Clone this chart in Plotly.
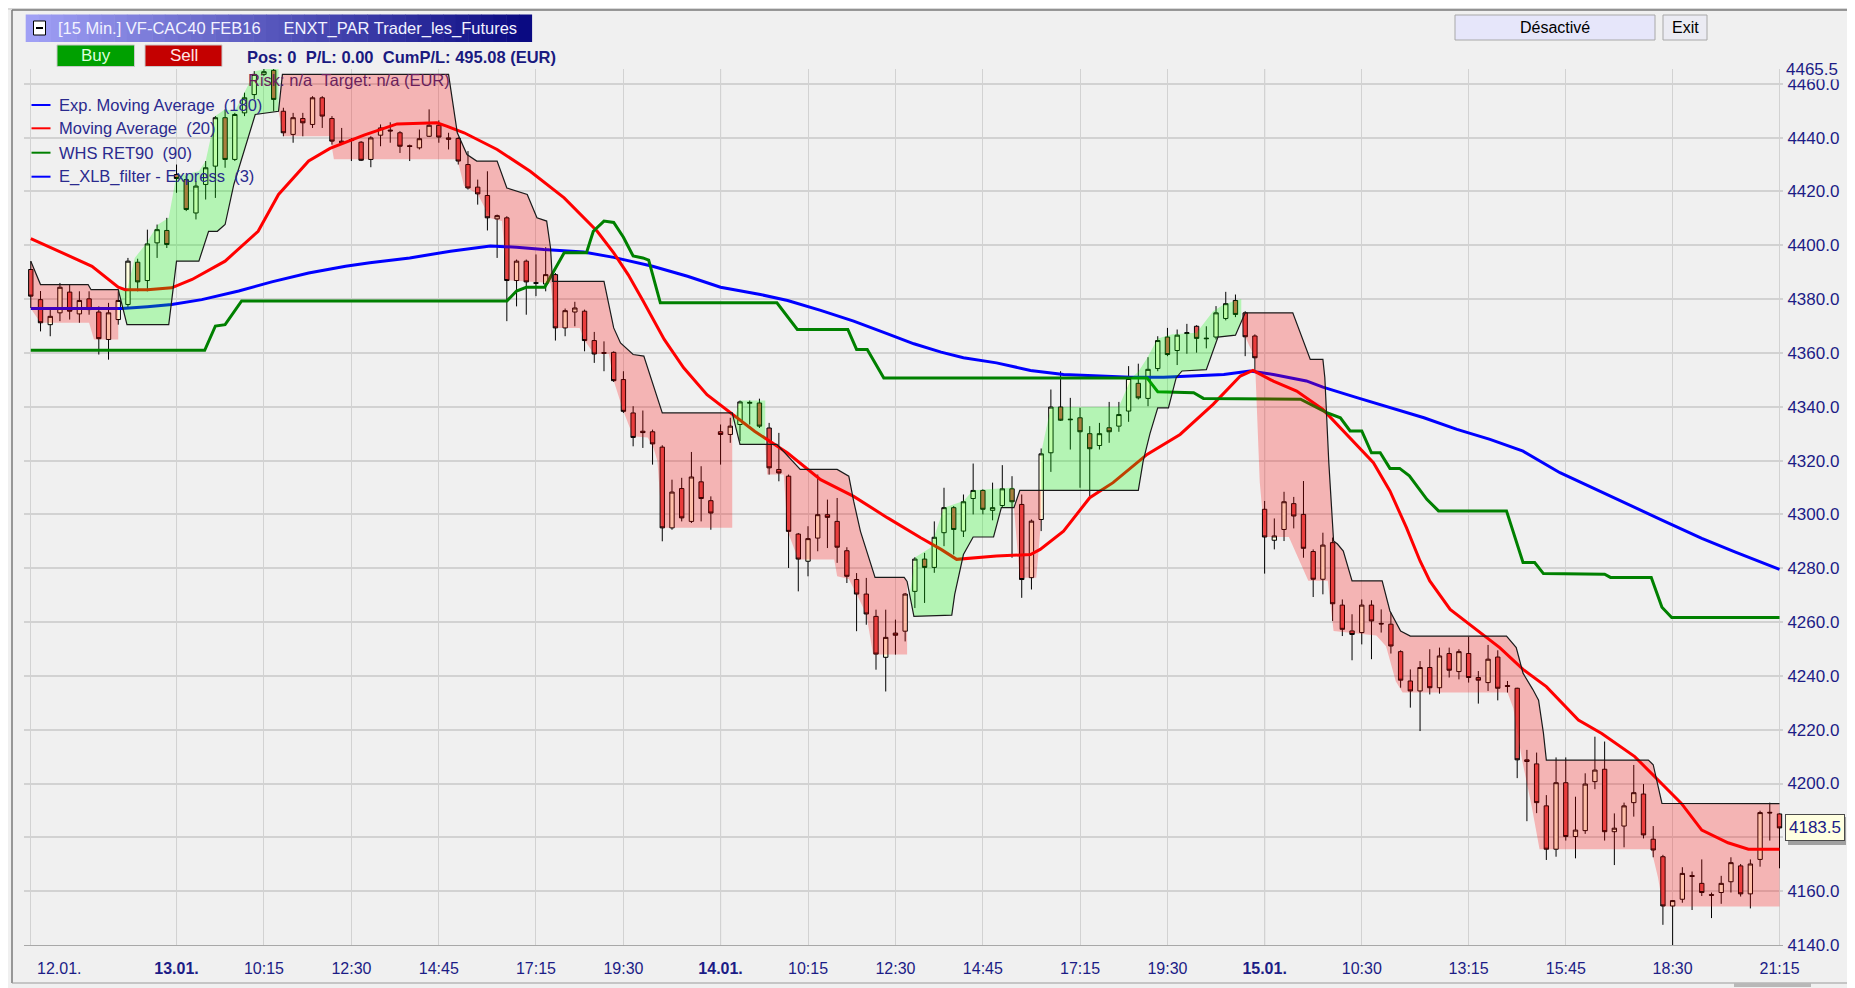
import plotly.graph_objects as go

# --- Velas 15 min, indice de barra 0..180 (12.01 18:15 -> 15.01 21:15) ---
open_ = [
    # 12.01
    4391.0, 4379.8, 4370.5, 4374.9, 4382.6, 4374.5, 4380.1, 4375.2, 4365.0, 4372.4, 4378.0, 4393.7, 4386.9, 4400.9, 4405.5,
    # 13.01
    4426.3, 4424.4, 4412.0, 4422.6, 4429.4, 4447.4, 4431.9, 4449.2, 4456.0, 4463.5, 4465.0, 4449.8, 4441.2, 4447.1,
    4444.9, 4454.8, 4447.1, 4438.7, 4438.9, 4438.3, 4431.9, 4440.9, 4442.8, 4441.8, 4437.0, 4436.2, 4440.5, 4444.6,
    4439.9, 4439.7, 4430.0, 4421.6, 4418.5, 4409.8, 4410.2, 4386.9, 4394.1, 4386.1, 4385.6, 4389.1, 4369.3, 4375.2,
    4375.5, 4364.6, 4360.1, 4360.2, 4350.1, 4337.7, 4330.9, 4330.7, 4325.0, 4295.0, 4309.6, 4297.4, 4312.1, 4305.1,
    # 14.01
    4330.7, 4329.7, 4333.4, 4341.3, 4341.4, 4332.1, 4316.7, 4314.2, 4292.7, 4282.6, 4291.2, 4299.9, 4297.4, 4286.5,
    4275.8, 4270.4, 4262.1, 4246.9, 4255.9, 4256.6, 4271.4, 4283.4, 4280.3, 4293.2, 4302.5, 4293.8, 4305.9, 4308.9,
    4301.5, 4303.3, 4309.5, 4303.7, 4276.5, 4298.1, 4322.9, 4339.9, 4335.4, 4335.9, 4330.0, 4325.6, 4332.2, 4332.8,
    4338.4, 4348.7, 4343.1, 4354.2, 4365.9, 4360.9, 4367.2, 4369.9, 4365.5, 4365.9, 4372.8, 4379.5, 4374.9, 4366.3,
    # 15.01
    4301.9, 4290.4, 4294.4, 4304.0, 4300.0, 4286.2, 4275.9, 4289.5, 4266.3, 4256.7, 4256.1, 4266.3, 4259.5, 4259.2,
    4249.0, 4238.1, 4234.4, 4243.1, 4235.6, 4248.3, 4241.6, 4248.3, 4239.4, 4237.5, 4247.0, 4236.4, 4235.4, 4208.8,
    4207.3, 4191.7, 4175.6, 4200.3, 4180.3, 4182.5, 4200.7, 4205.3, 4182.1, 4184.2, 4192.9, 4196.1, 4179.3, 4172.8,
    4154.5, 4157.0, 4165.8, 4162.9, 4158.7, 4159.5, 4163.5, 4169.4, 4159.0, 4171.8, 4189.3, 4188.7,
]
high = [
    4394.1, 4383.0, 4376.7, 4386.0, 4385.4, 4382.9, 4382.9, 4377.3, 4378.6, 4382.9, 4395.3, 4395.0, 4405.8, 4407.7, 4410.2,
    4430.0, 4425.7, 4423.8, 4431.3, 4448.0, 4450.5, 4449.2, 4456.7, 4464.7, 4466.0, 4466.0, 4451.1, 4449.2, 4449.2,
    4455.4, 4455.4, 4448.0, 4443.6, 4439.9, 4438.7, 4440.5, 4444.9, 4445.7, 4442.4, 4437.4, 4443.0, 4450.5, 4446.4,
    4441.8, 4440.2, 4435.0, 4424.4, 4427.5, 4411.4, 4410.8, 4394.7, 4394.7, 4396.6, 4399.3, 4389.7, 4376.5, 4379.0,
    4376.1, 4367.8, 4364.3, 4360.6, 4353.2, 4340.2, 4338.6, 4331.5, 4325.7, 4312.9, 4313.6, 4323.2, 4317.9, 4306.7,
    4333.4, 4335.9, 4342.3, 4342.3, 4343.0, 4334.0, 4330.3, 4314.8, 4293.1, 4295.6, 4314.8, 4305.5, 4306.1, 4287.8,
    4278.2, 4276.4, 4264.6, 4264.6, 4260.9, 4270.8, 4284.1, 4285.7, 4297.4, 4309.9, 4303.1, 4307.4, 4318.9, 4309.3,
    4311.8, 4318.3, 4314.2, 4307.4, 4298.1, 4324.5, 4346.4, 4353.2, 4343.3, 4339.6, 4332.8, 4334.0, 4341.8, 4341.8,
    4355.1, 4356.0, 4358.4, 4366.2, 4369.3, 4368.7, 4370.8, 4370.3, 4369.9, 4377.4, 4382.7, 4381.7, 4375.5, 4366.9,
    4305.0, 4298.5, 4308.4, 4306.5, 4312.4, 4287.0, 4293.2, 4291.4, 4268.4, 4262.9, 4268.4, 4268.1, 4264.7, 4263.5,
    4249.5, 4242.4, 4245.5, 4249.9, 4250.5, 4250.5, 4249.9, 4254.5, 4241.8, 4251.5, 4249.5, 4238.1, 4235.6, 4212.5,
    4211.5, 4195.7, 4209.7, 4209.7, 4195.1, 4203.8, 4217.4, 4215.6, 4188.9, 4192.9, 4206.9, 4199.8, 4184.2, 4173.5,
    4156.7, 4168.9, 4167.3, 4171.8, 4159.5, 4165.7, 4172.6, 4170.1, 4171.8, 4189.9, 4192.9, 4188.9,
]
low = [
    4376.7, 4368.0, 4366.2, 4371.8, 4372.4, 4371.2, 4374.2, 4359.4, 4357.5, 4370.5, 4376.7, 4382.9, 4382.9, 4395.3, 4399.0,
    4419.5, 4412.7, 4409.6, 4417.0, 4417.6, 4428.8, 4431.3, 4448.0, 4454.2, 4462.9, 4449.8, 4440.5, 4438.1, 4440.5,
    4443.6, 4443.6, 4437.4, 4437.4, 4431.3, 4431.3, 4429.0, 4436.8, 4438.1, 4434.3, 4431.3, 4435.6, 4440.2, 4438.1,
    4435.6, 4430.0, 4420.7, 4415.1, 4405.5, 4395.3, 4371.8, 4377.3, 4374.2, 4381.1, 4382.9, 4364.6, 4366.2, 4369.9,
    4360.6, 4356.3, 4353.2, 4349.2, 4337.7, 4325.3, 4324.7, 4318.5, 4290.0, 4294.3, 4297.4, 4296.8, 4297.4, 4294.3,
    4318.5, 4326.6, 4327.2, 4333.4, 4332.1, 4314.8, 4312.3, 4280.1, 4271.4, 4277.0, 4286.3, 4287.5, 4282.0, 4274.5,
    4256.6, 4259.0, 4242.3, 4234.2, 4247.9, 4252.8, 4265.2, 4267.1, 4278.3, 4288.2, 4285.1, 4291.6, 4300.0, 4300.0,
    4297.8, 4302.5, 4283.9, 4269.0, 4272.1, 4293.8, 4315.8, 4334.7, 4324.1, 4309.9, 4306.8, 4324.1, 4326.6, 4330.7,
    4334.4, 4342.7, 4340.2, 4353.2, 4358.8, 4355.5, 4359.7, 4360.1, 4361.7, 4365.0, 4372.1, 4373.3, 4358.8, 4353.3,
    4278.0, 4287.0, 4290.1, 4294.8, 4283.9, 4269.3, 4270.3, 4260.4, 4254.8, 4245.8, 4251.7, 4246.2, 4256.1, 4248.3,
    4235.6, 4228.2, 4219.5, 4233.1, 4233.4, 4239.4, 4238.7, 4237.5, 4229.7, 4234.4, 4230.9, 4233.8, 4202.0, 4186.0,
    4189.0, 4171.6, 4172.8, 4178.8, 4172.2, 4181.3, 4197.9, 4178.8, 4169.7, 4176.3, 4187.7, 4179.6, 4172.6, 4147.5,
    4139.7, 4155.7, 4153.0, 4158.2, 4150.0, 4155.3, 4159.5, 4158.0, 4153.6, 4169.1, 4178.8, 4168.5,
]
close = [
    4381.1, 4371.2, 4373.6, 4384.4, 4375.5, 4379.5, 4376.1, 4365.3, 4374.9, 4379.5, 4394.1, 4386.4, 4400.5, 4405.8, 4400.3,
    4424.8, 4413.3, 4422.0, 4428.8, 4447.4, 4431.9, 4448.6, 4454.8, 4463.5, 4464.5, 4454.2, 4441.8, 4447.4, 4445.5,
    4454.8, 4448.0, 4438.7, 4438.1, 4439.2, 4431.6, 4439.9, 4443.6, 4442.5, 4436.8, 4436.7, 4439.6, 4444.6, 4440.2,
    4439.4, 4431.3, 4421.3, 4419.1, 4410.2, 4411.0, 4386.9, 4394.1, 4386.4, 4385.9, 4389.1, 4369.3, 4375.7, 4376.7,
    4364.6, 4359.6, 4359.9, 4349.7, 4338.3, 4328.6, 4330.4, 4326.2, 4295.0, 4308.3, 4298.7, 4313.9, 4305.9, 4300.5,
    4329.7, 4332.8, 4341.8, 4341.6, 4332.8, 4317.3, 4315.4, 4293.7, 4283.4, 4291.0, 4299.9, 4298.9, 4287.8, 4277.0,
    4270.4, 4263.0, 4248.1, 4254.3, 4255.1, 4270.4, 4283.4, 4280.3, 4291.5, 4302.5, 4294.4, 4304.7, 4308.9, 4301.9,
    4302.5, 4309.5, 4304.7, 4275.8, 4297.5, 4322.5, 4339.9, 4335.0, 4335.2, 4330.7, 4324.4, 4330.0, 4330.7, 4337.1,
    4350.5, 4343.3, 4353.9, 4364.6, 4359.4, 4366.6, 4367.5, 4365.4, 4365.3, 4374.9, 4378.3, 4374.3, 4366.0, 4358.2,
    4291.6, 4292.0, 4304.7, 4299.4, 4287.4, 4275.9, 4288.6, 4266.8, 4257.3, 4255.4, 4266.3, 4260.4, 4259.3, 4251.1,
    4238.4, 4234.4, 4243.1, 4235.6, 4247.4, 4242.1, 4249.0, 4239.4, 4238.4, 4246.2, 4235.4, 4236.1, 4208.8, 4208.2,
    4192.9, 4175.6, 4200.3, 4180.3, 4182.7, 4199.8, 4205.0, 4182.1, 4183.4, 4191.7, 4196.6, 4180.9, 4175.3, 4154.5,
    4156.5, 4166.6, 4165.5, 4159.5, 4158.5, 4162.9, 4170.6, 4159.0, 4170.1, 4189.2, 4189.1, 4183.5,
]
bars = list(range(len(close)))

# --- Indicadores ---
ema_x = [0, 9.4, 12, 14.5, 17.6, 21.4, 24.8, 28.6, 32.4, 34.9, 39, 43.2, 47.3, 50, 52.8, 56.9, 60, 64, 67.6, 71,
         75.1, 77.9, 81.3, 84.7, 88.2, 90.9, 93.7, 96, 99.4, 102.9, 106.3, 109.7, 113.2, 116.6, 120, 122.8, 125.5,
         127.9, 131.3, 133, 136.5, 139.9, 143.4, 146.8, 150.2, 153.6, 157.4, 167.9, 172, 175.4, 180]
ema_y = [4376.5, 4376.5, 4377.2, 4378.0, 4379.8, 4383.0, 4386.4, 4389.7, 4392.2, 4393.5, 4395.3, 4397.8, 4399.7,
         4399.3, 4398.4, 4397.5, 4395.5, 4392.2, 4388.5, 4384.4, 4381.7, 4379.5, 4375.8, 4371.8, 4367.1, 4363.4,
         4360.3, 4358.2, 4356.3, 4353.5, 4352.0, 4351.4, 4351.0, 4351.0, 4351.4, 4352.0, 4353.3, 4352.0, 4349.6,
         4347.3, 4343.4, 4339.6, 4335.9, 4331.6, 4327.9, 4323.5, 4315.5, 4297.9, 4291.1, 4286.1, 4279.6]

ma_x = [0, 2.8, 6.3, 9, 9.7, 12, 14.5, 16.6, 20, 23.4, 25.5, 28.6, 30.8, 34.3, 37.7, 41.8, 42.8, 44.6, 48, 51.4,
        54.9, 58.3, 60, 61.5, 63, 65.2, 67.2, 69.6, 72, 74.5, 77.9, 81.3, 84.7, 88.2, 91.6, 93.7, 95.3, 99.4, 102.9,
        103.9, 106.3, 109, 111.4, 114.9, 118.3, 121.7, 124.5, 125.8, 127.9, 130.3, 133, 134.8, 138.2, 139.9, 141.6,
        143, 144, 146.1, 148.5, 151.2, 153.6, 156, 159.3, 161.7, 165.1, 167.5, 169.9, 172, 174.7, 176.8, 180]
ma_y = [4402.5, 4398.0, 4392.2, 4384.4, 4383.5, 4383.5, 4384.2, 4387.3, 4394.1, 4405.2, 4418.9, 4431.3, 4436.0,
        4440.9, 4445.1, 4445.5, 4444.3, 4441.8, 4435.6, 4427.5, 4417.6, 4405.2, 4397.2, 4389.0, 4379.5, 4365.0,
        4354.5, 4344.5, 4337.7, 4330.9, 4322.8, 4312.9, 4306.7, 4298.7, 4291.3, 4287.0, 4283.3, 4284.5, 4285.1,
        4287.0, 4293.8, 4306.2, 4311.8, 4322.3, 4329.7, 4340.9, 4351.4, 4353.5, 4349.5, 4345.8, 4339.0, 4332.2,
        4319.2, 4308.7, 4295.1, 4282.7, 4275.3, 4264.7, 4257.9, 4250.5, 4242.4, 4236.0, 4223.6, 4218.6, 4210.0,
        4201.3, 4192.6, 4182.7, 4178.0, 4175.6, 4175.6]

whs_x = [0, 17.9, 19, 20, 21.7, 49, 50, 51, 52.9, 54.9, 57.2, 57.9, 59, 60, 61, 62, 63, 63.6, 64.8, 76.8, 78.9,
         84.1, 85, 86.1, 87.8, 114.9, 116, 119.7, 120.7, 130.7, 133.4, 134.8, 135.8, 137, 138, 138.9, 139.9, 140.9,
         141.9, 143.7, 144.9, 151.9, 153.6, 154.8, 155.7, 162, 162.6, 166.8, 167.9, 168.9, 180]
whs_y = [4361.0, 4361.0, 4370.0, 4370.5, 4379.3, 4379.3, 4383.0, 4384.4, 4384.4, 4397.2, 4397.2, 4405.2, 4409.0,
         4408.5, 4403.0, 4396.0, 4395.3, 4394.5, 4378.6, 4378.6, 4368.7, 4368.7, 4361.3, 4361.3, 4350.7, 4350.7,
         4345.6, 4345.2, 4343.1, 4342.8, 4337.8, 4335.9, 4331.0, 4331.0, 4322.9, 4322.9, 4317.1, 4317.1, 4314.3,
         4305.6, 4301.3, 4301.3, 4282.1, 4282.1, 4278.0, 4277.8, 4276.6, 4276.6, 4265.5, 4261.7, 4261.7]

# ligne noire du filtre E_XLB
stop_x = [0, 1, 5.9, 6.2, 9.0, 9.9, 14.2, 15, 17.3, 18.3, 19.2, 20, 20.9, 23.1, 25.5, 25.9, 43, 43.9, 44.9, 45.9,
          48, 49, 51.1, 52.1, 53.1, 53.5, 53.7, 59, 60, 60.7, 62, 63.1, 65, 72.2, 73, 75.6, 76.8, 79.2, 83, 84.2,
          84.7, 85.4, 86.9, 89.9, 90.2, 90.9, 94.8, 95.1, 96, 97, 99.1, 99.9, 101.2, 101.8, 104, 114, 114.5, 115.2,
          116, 117.1, 117.9, 118.5, 121, 122.2, 124, 124.6, 125, 129.9, 131.7, 133, 133.2, 133.6, 134.1, 134.5,
          135.1, 136, 139.1, 139.9, 141, 142, 151.9, 152.9, 153.6, 154.6, 155.2, 155.7, 156, 166.5, 167, 167.9, 180]
stop_y = [4394.1, 4385.4, 4385.4, 4383.5, 4383.5, 4370.5, 4370.5, 4394.1, 4394.1, 4405.2, 4405.2, 4407.7, 4422.6,
          4448.6, 4449.8, 4463.5, 4463.5, 4441.8, 4433.7, 4431.3, 4431.3, 4421.3, 4418.9, 4410.2, 4409.0, 4399.0,
          4386.6, 4386.6, 4369.3, 4363.7, 4359.4, 4358.8, 4337.7, 4337.7, 4326.0, 4326.0, 4326.0, 4316.7, 4316.7,
          4314.2, 4304.9, 4293.7, 4276.6, 4276.6, 4275.1, 4262.1, 4262.6, 4270.3, 4285.1, 4291.6, 4291.6, 4302.5,
          4302.5, 4308.9, 4308.9, 4308.9, 4319.8, 4330.0, 4339.6, 4339.6, 4350.8, 4353.3, 4353.8, 4365.9, 4366.6,
          4372.0, 4374.9, 4374.9, 4357.6, 4357.6, 4350.8, 4319.8, 4290.1, 4289.0, 4286.4, 4275.3, 4275.3, 4264.1,
          4256.7, 4254.8, 4254.8, 4250.5, 4241.0, 4235.0, 4231.0, 4218.7, 4208.7, 4208.7, 4207.0, 4192.6, 4192.5]

# zones (autre bord de la zone; l'autre bord est la ligne noire)
band_a_x = [0, 1, 6, 6.5, 9.0]
band_a_y = [4376.5, 4371.2, 4371.2, 4365.0, 4365.0]
band_b_x = [9.0, 9.9, 10.7, 11.8, 13.1, 14.2, 15, 15.9, 17.3, 18, 19, 20, 21, 22, 23.1, 24.1, 25.5]
band_b_y = [4383.5, 4383.0, 4395.3, 4400.3, 4407.7, 4410.2, 4426.3, 4426.3, 4427.5, 4431.3, 4448.0, 4450.5, 4449.8,
            4456.7, 4464.7, 4465.5, 4465.5]
band_c_x = [25.5, 26, 30.8, 31.2, 43.9, 44.6, 46, 47.3, 48.5, 49, 53.5, 54, 56.5, 57, 58, 59.5, 60, 61, 62, 63.5,
            64.1, 64.5, 65, 72.2]
band_c_y = [4449.8, 4440.5, 4440.5, 4432.0, 4432.0, 4422.0, 4419.0, 4410.0, 4409.0, 4387.0, 4386.0, 4369.3, 4369.3,
            4364.6, 4359.6, 4359.6, 4349.7, 4338.3, 4329.0, 4328.6, 4324.7, 4319.8, 4295.0, 4295.0]
band_e_x = [72.2, 73, 75.6]
band_e_y = [4333.0, 4342.3, 4342.3]
band_f_x = [75.6, 75.8, 77.5, 77.9, 79, 82.7, 83, 84.2, 85, 86, 86.7, 90.2]
band_f_y = [4326.0, 4314.8, 4314.8, 4293.7, 4283.2, 4283.2, 4277.0, 4276.0, 4270.4, 4263.0, 4247.9, 4247.9]
band_g_x = [90.2, 90.5, 91, 92.6, 94, 96, 97, 101.2]
band_g_y = [4275.1, 4270.8, 4284.0, 4287.6, 4302.5, 4305.0, 4309.0, 4310.0]
band_h_x = [101.2, 101.8, 103.5, 104]
band_h_y = [4302.5, 4276.5, 4276.5, 4298.0]
band_i_x = [104, 105, 112, 113.3, 114, 114.9, 116, 117.5, 120, 121.7, 122.8, 124.6]
band_i_y = [4322.9, 4339.9, 4340.0, 4350.8, 4353.0, 4358.0, 4365.4, 4366.9, 4367.5, 4375.5, 4378.0, 4380.0]
band_j_x = [124.6, 125, 126, 126.5, 127, 129.5, 131.5, 133.5, 134.1, 138.5, 139.5, 140.5, 141.2, 152, 152.6, 153.5,
            154.5, 155.3, 166.8, 167.5, 168, 180]
band_j_y = [4372.0, 4366.0, 4358.2, 4312.0, 4291.6, 4291.6, 4275.3, 4275.3, 4256.7, 4255.0, 4251.0, 4238.0, 4233.8,
            4233.8, 4228.0, 4208.8, 4191.4, 4175.6, 4175.6, 4165.0, 4154.3, 4154.3]

# (couleur, debut/fin dans la ligne noire, bord)
bands = [
    ("down", 0, 4, band_a_x, band_a_y),
    ("up", 4, 14, band_b_x, band_b_y),
    ("down", 14, 33, band_c_x, band_c_y),
    ("up", 33, 35, band_e_x, band_e_y),
    ("down", 35, 44, band_f_x, band_f_y),
    ("up", 44, 52, band_g_x, band_g_y),
    ("down", 52, 54, band_h_x, band_h_y),
    ("up", 54, 65, band_i_x, band_i_y),
    ("down", 65, 90, band_j_x, band_j_y),
]

tick_pos = [0, 15, 24, 33, 42, 52, 61, 71, 80, 89, 98, 108, 117, 127, 137, 148, 158, 169, 180]
tick_text = ["", "<b>13.01.</b>", "10:15", "12:30", "14:45", "17:15", "19:30", "<b>14.01.</b>", "10:15", "12:30",
             "14:45", "17:15", "19:30", "<b>15.01.</b>", "10:30", "13:15", "15:45", "18:30", "21:15"]
day_starts = [15, 71, 127]
price_ticks = [4140 + 20 * k for k in range(17)] + [4465.5]
top_price = 4465.5
last_price = 4183.5

FONT = "Liberation Sans, Arial, sans-serif"
NAVY = "#1c1c86"

# zone de trace en pixels de page (la page ajoute 8 px de marge au body)
PAGE_W, PAGE_H, OFF = 1855, 988, 8
L, R, T, B = 24, 1783, 69, 945


def fx(px):
    return (px - L) / (R - L)


def fy(py):
    return (B - py) / (B - T)


fig = go.Figure()

# lignes des indicateurs (sous les zones)
fig.add_trace(go.Scatter(x=ema_x, y=ema_y, mode="lines", line=dict(color="#0000ff", width=3), hoverinfo="skip"))
fig.add_trace(go.Scatter(x=ma_x, y=ma_y, mode="lines", line=dict(color="#ff0000", width=3), hoverinfo="skip"))
fig.add_trace(go.Scatter(x=whs_x, y=whs_y, mode="lines", line=dict(color="#008000", width=3), hoverinfo="skip"))

# zones rouges / vertes
for kind, i0, i1, ex, ey in bands:
    fill = "rgba(255,0,0,0.25)" if kind == "down" else "rgba(0,255,0,0.25)"
    fig.add_trace(go.Scatter(x=stop_x[i0:i1 + 1], y=stop_y[i0:i1 + 1], mode="lines",
                             line=dict(width=0), hoverinfo="skip"))
    fig.add_trace(go.Scatter(x=ex, y=ey, mode="lines", line=dict(width=0), fill="tonexty",
                             fillcolor=fill, hoverinfo="skip"))

fig.add_trace(go.Scatter(x=stop_x, y=stop_y, mode="lines", line=dict(color="#1a1a1a", width=1.2), hoverinfo="skip"))

fig.add_trace(go.Candlestick(
    x=bars, open=open_, high=high, low=low, close=close,
    increasing=dict(fillcolor="#ffffe0", line=dict(color="#000000", width=1)),
    decreasing=dict(fillcolor="#e25252", line=dict(color="#000000", width=1)),
    whiskerwidth=0, hoverinfo="skip",
))

shapes = []
# separateurs de jour
for d in day_starts:
    shapes.append(dict(type="line", xref="x", yref="paper", x0=d, x1=d, y0=0, y1=1,
                       line=dict(color="#a4a4a4", width=1), layer="between"))

# cadre de la fenetre
shapes.append(dict(type="rect", xref="paper", yref="paper", x0=fx(0), x1=fx(1855), y0=fy(0), y1=fy(10),
                   fillcolor="#d9d9d9", line=dict(width=0), layer="below"))
shapes.append(dict(type="line", xref="paper", yref="paper", x0=fx(12), x1=fx(1855), y0=fy(10), y1=fy(10),
                   line=dict(color="#7a7a7a", width=1.5)))
shapes.append(dict(type="line", xref="paper", yref="paper", x0=fx(12), x1=fx(12), y0=fy(10), y1=fy(983),
                   line=dict(color="#7a7a7a", width=1.5)))
shapes.append(dict(type="line", xref="paper", yref="paper", x0=fx(12), x1=fx(1855), y0=fy(983), y1=fy(983),
                   line=dict(color="#9a9a9a", width=1)))
shapes.append(dict(type="rect", xref="paper", yref="paper", x0=fx(1734), x1=fx(1811), y0=fy(983), y1=fy(987),
                   fillcolor="#b8b8b8", line=dict(width=0)))

# barre de titre en degrade
n_steps = 40
x_a, x_b = 25.7, 531.6
for k in range(n_steps):
    t = k / (n_steps - 1)
    r = int(160 - 150 * t)
    g = int(160 - 150 * t)
    b = int(245 - 115 * t)
    shapes.append(dict(type="rect", xref="paper", yref="paper",
                       x0=fx(x_a + (x_b - x_a) * k / n_steps), x1=fx(x_a + (x_b - x_a) * (k + 1) / n_steps + 0.5),
                       y0=fy(42), y1=fy(14.5), fillcolor=f"rgb({r},{g},{b})", line=dict(width=0)))
shapes.append(dict(type="rect", xref="paper", yref="paper", x0=fx(33.5), x1=fx(45.5), y0=fy(35), y1=fy(21),
                   fillcolor="#ffffff", line=dict(color="#000000", width=1)))
shapes.append(dict(type="line", xref="paper", yref="paper", x0=fx(36), x1=fx(43), y0=fy(28), y1=fy(28),
                   line=dict(color="#000000", width=2)))

# boutons
shapes.append(dict(type="rect", xref="paper", yref="paper", x0=fx(57), x1=fx(134.5), y0=fy(66.5), y1=fy(45),
                   fillcolor="#00a000", line=dict(color="#c8c8c8", width=1)))
shapes.append(dict(type="rect", xref="paper", yref="paper", x0=fx(145), x1=fx(222), y0=fy(66.5), y1=fy(45),
                   fillcolor="#c40000", line=dict(color="#c8c8c8", width=1)))
shapes.append(dict(type="rect", xref="paper", yref="paper", x0=fx(1455), x1=fx(1655), y0=fy(40), y1=fy(15),
                   fillcolor="#e6e6fa", line=dict(color="#a8a8a8", width=1)))
shapes.append(dict(type="rect", xref="paper", yref="paper", x0=fx(1663), x1=fx(1707), y0=fy(40), y1=fy(15),
                   fillcolor="#ebebf3", line=dict(color="#a8a8a8", width=1)))

# legende
legend_items = [
    ("Exp. Moving Average  (180)", "#0000ff", 105),
    ("Moving Average  (20)", "#ff0000", 128.3),
    ("WHS RET90  (90)", "#008000", 152.7),
    ("E_XLB_filter - Express  (3)", "#0000ff", 176.7),
]
for _, col, yy in legend_items:
    shapes.append(dict(type="line", xref="paper", yref="paper", x0=fx(31.5), x1=fx(50.5), y0=fy(yy), y1=fy(yy),
                       line=dict(color=col, width=2)))

# ombre de l'etiquette du dernier prix
ly = B - (last_price - 4140) / (4465.5 - 4140) * (B - T)
shapes.append(dict(type="rect", xref="paper", yref="paper", x0=fx(1788), x1=fx(1846), y0=fy(ly + 17), y1=fy(ly - 11),
                   fillcolor="#a0a0a0", line=dict(width=0)))

annotations = []


def note(text, px, py, size=16, color=NAVY, anchor="left", bold=False):
    annotations.append(dict(text=f"<b>{text}</b>" if bold else text, xref="paper", yref="paper",
                            x=fx(px), y=fy(py), xanchor=anchor, yanchor="middle", showarrow=False,
                            font=dict(family=FONT, size=size, color=color)))


nb = "\u00a0"
note(f"[15 Min.] VF-CAC40 FEB16{nb * 5}ENXT_PAR Trader_les_Futures", 56, 29, size=16.5, color="#f2f2ff")
note("Buy", 95.7, 56, size=17, color="#dcffdc", anchor="center")
note("Sell", 183.5, 56, size=17, color="#ffe6e6", anchor="center")
note(f"Pos: 0{nb * 2}P/L: 0.00{nb * 2}CumP/L: 495.08 (EUR)", 245, 56.5, size=16.5, color="#1a1a80", bold=True)
note(f"Risk: n/a{nb * 2}Target: n/a (EUR)", 246, 80, size=16.5, color="#6a1f5c")
note("Désactivé", 1555, 27.5, size=16, color="#000000", anchor="center")
note("Exit", 1685, 27.5, size=16, color="#000000", anchor="center")
for txt, _, yy in legend_items:
    note(txt.replace("  ", nb * 2), 56.5, yy, size=16.5, color="#2a2a8e")
note("12.01.", 35, 968, size=16, color=NAVY)

# etiquette du haut de l'echelle, posee sur celle de 4460.0
annotations.append(dict(text=f"{top_price:.1f}", xref="paper", yref="y", x=1, y=top_price, xanchor="left",
                        yanchor="middle", xshift=2, showarrow=False, bgcolor="#f0f0f0", borderpad=0,
                        font=dict(family=FONT, size=17, color=NAVY)))
annotations.append(dict(text=f"{last_price:.1f}", xref="paper", yref="y", x=1, y=last_price, xanchor="left",
                        yanchor="middle", xshift=2, showarrow=False, bgcolor="#ffffe0", bordercolor="#4a4a4a",
                        borderwidth=1, borderpad=3, font=dict(family=FONT, size=17, color=NAVY)))

fig.update_layout(
    width=PAGE_W - OFF, height=PAGE_H - OFF,
    margin=dict(l=L - OFF, r=PAGE_W - R, t=T - OFF, b=PAGE_H - B),
    paper_bgcolor="#f0f0f0", plot_bgcolor="#f0f0f0",
    showlegend=False, boxgap=0.36,
    shapes=shapes, annotations=annotations,
    xaxis=dict(range=[-0.7, 180.36], tickvals=tick_pos, ticktext=tick_text, showgrid=True, gridcolor="#d2d2d2",
               gridwidth=1, zeroline=False, rangeslider=dict(visible=False), ticks="outside", ticklen=9,
               tickcolor="rgba(0,0,0,0)", tickfont=dict(family=FONT, size=16, color=NAVY),
               showline=True, linecolor="#a8a8a8", linewidth=1),
    yaxis=dict(range=[4140, 4465.5], side="right", tickvals=price_ticks,
               ticktext=[f"{v:.1f}" if v != top_price else "" for v in price_ticks], showgrid=True,
               gridcolor="#d2d2d2", gridwidth=1.5, zeroline=False, ticks="outside", ticklen=0,
               tickfont=dict(family=FONT, size=17, color=NAVY)),
)

fig.write_html("out.html")
